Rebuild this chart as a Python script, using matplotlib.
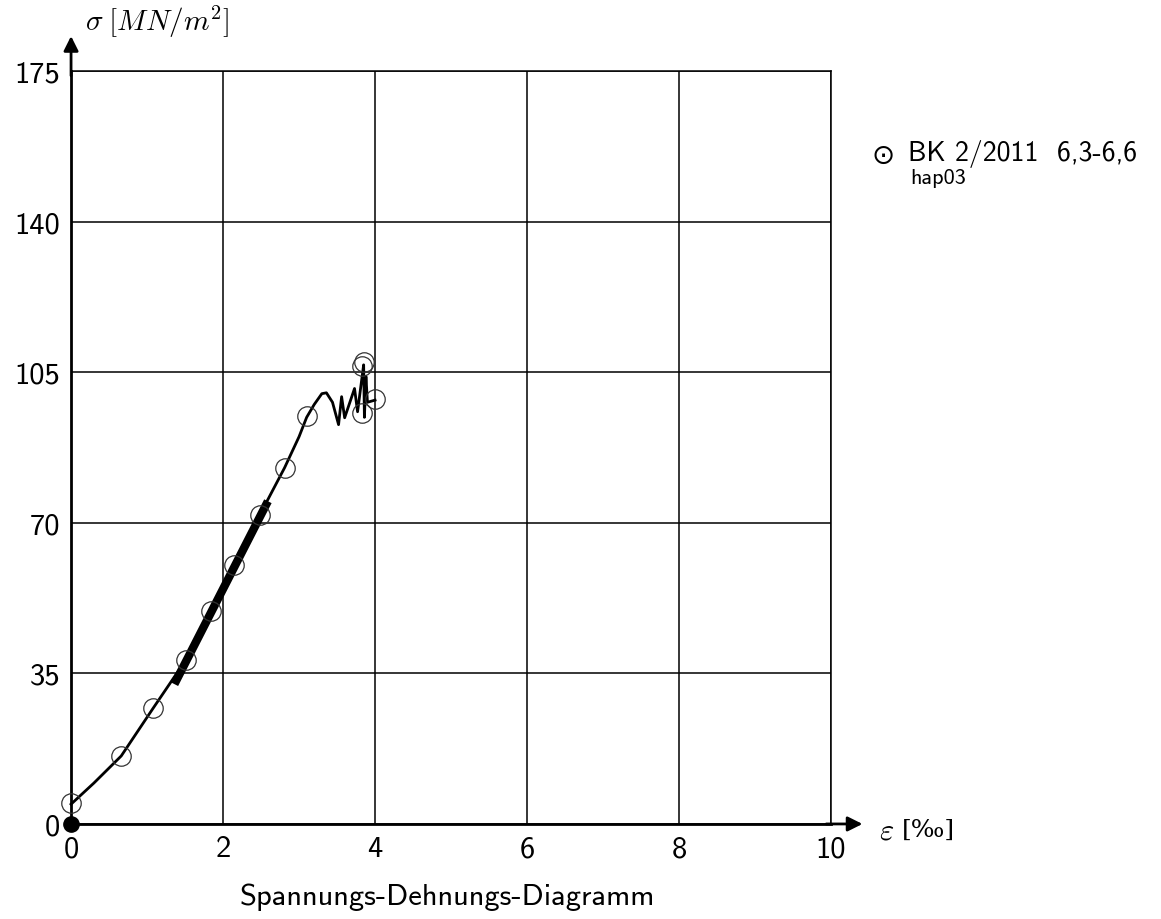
import numpy as np
import matplotlib.pyplot as plt

plt.rcParams['mathtext.fontset'] = 'cm'
plt.rcParams['axes.unicode_minus'] = False
sans = ['cmss10', 'DejaVu Sans']

# measured points (circles)
eps_pts = [0.0, 0.66, 1.08, 1.51, 1.84, 2.15, 2.48, 2.81, 3.10, 3.83, 3.86, 3.83, 4.00]
sig_pts = [4.9, 15.8, 26.9, 38.1, 49.4, 60.1, 71.7, 82.8, 94.9, 106.5, 107.3, 95.4, 98.8]

# recorded curve
eps_curve = [0.0, 0.3, 0.66, 1.08, 1.51, 1.84, 2.15, 2.48, 2.81, 3.0, 3.1, 3.2, 3.3, 3.36,
             3.44, 3.52, 3.56, 3.60, 3.73, 3.77, 3.83, 3.85, 3.86, 3.88, 3.90, 4.0]
sig_curve = [4.6, 9.5, 15.8, 26.9, 38.1, 49.4, 60.1, 71.7, 82.8, 90.0, 94.5, 97.5, 100.0, 100.2,
             98.0, 92.8, 99.3, 94.4, 101.2, 95.8, 104.0, 106.7, 94.5, 104.0, 98.0, 98.5]

# thick straight section (linear fit)
eps_fit = [1.36, 2.59]
sig_fit = [32.5, 75.0]

xticks = [0, 2, 4, 6, 8, 10]
yticks = [0, 35, 70, 105, 140, 175]

fig = plt.figure(figsize=(11.61, 9.2), dpi=100)
ax = fig.add_axes([0.0612, 0.1033, 0.6546, 0.8185])

ax.set_xlim(0, 10)
ax.set_ylim(0, 175)
ax.set_xticks(xticks)
ax.set_yticks(yticks)
ax.set_xticklabels([str(t) for t in xticks], fontsize=22, family=sans)
ax.set_yticklabels([str(t) for t in yticks], fontsize=22, family=sans)
ax.tick_params(axis='x', length=0, pad=8)
ax.tick_params(axis='y', length=0, pad=8)
ax.grid(True, color='black', linewidth=1.1)

for s in ['top', 'right']:
    ax.spines[s].set_linewidth(1.1)
for s in ['left', 'bottom']:
    ax.spines[s].set_linewidth(2)

ax.plot(eps_curve, sig_curve, color='black', linewidth=2, clip_on=False, zorder=3)
ax.plot(eps_fit, sig_fit, color='black', linewidth=6, solid_capstyle='butt', zorder=4)
ax.plot(eps_pts, sig_pts, 'o', markersize=14, markerfacecolor='none',
        markeredgecolor='#333333', markeredgewidth=0.9, clip_on=False, zorder=5)
ax.plot([0], [0], 'o', markersize=11, color='black', clip_on=False, zorder=6)

# axis arrows
ax.annotate('', xy=(0, 1.05), xytext=(0, 0.99), xycoords='axes fraction',
            arrowprops=dict(arrowstyle='-|>', lw=2, color='black', mutation_scale=22))
ax.annotate('', xy=(1.045, 0), xytext=(0.99, 0), xycoords='axes fraction',
            arrowprops=dict(arrowstyle='-|>', lw=2, color='black', mutation_scale=22))

fig.text(0.073, 0.976, r'$\sigma\;[MN/m^2]$', fontsize=21, ha='left', va='center')
fig.text(0.757, 0.097, r'$\varepsilon$', fontsize=22, ha='left', va='center')
fig.text(0.777, 0.097, '[‰]', fontsize=18, ha='left', va='center', family='DejaVu Serif')

fig.text(0.385, 0.025, 'Spannungs-Dehnungs-Diagramm',
         fontsize=22, ha='center', va='center', family=sans)

# legend text
fig.text(0.751, 0.831, '⊙', fontsize=20, ha='left', va='center', family='DejaVu Sans')
fig.text(0.782, 0.833, 'BK 2/2011  6,3-6,6', fontsize=20,
         ha='left', va='center', family=sans)
fig.text(0.784, 0.806, 'hap03', fontsize=16, ha='left', va='center', family=sans)

fig.savefig('out.png', dpi=100)
